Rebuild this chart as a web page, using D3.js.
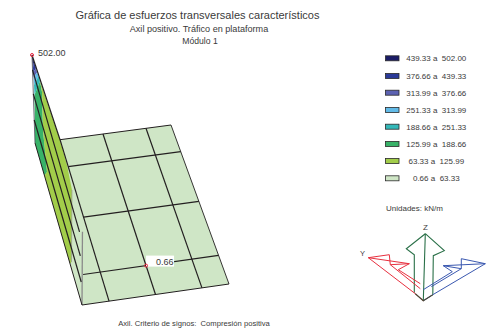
<!DOCTYPE html>
<html><head><meta charset="utf-8">
<script src="https://cdn.jsdelivr.net/npm/d3@7/dist/d3.min.js"></script>
<style>html,body{margin:0;padding:0;background:#fff}svg{display:block}text{font-family:"Liberation Sans",Arial,sans-serif;fill:#3a3a3a;white-space:pre}</style>
</head><body><svg id="c" width="488" height="334"></svg>
<script>
// Legend data
const lowerBounds = [439.33,376.66,313.99,251.33,188.66,125.99,63.33,0.66];
const upperBounds = [502.00,439.33,376.66,313.99,251.33,188.66,125.99,63.33];
const bandColors = ["#1b1c66","#2b3a98","#5c62b2","#62bbe8","#33b8b8","#38b268","#a2cd4a","#cfe6c6"];
const legendY = [58.3,76,92.7,110,126.7,144,161,178.3];
// Plate mesh (fractional stations across u and along v)
const uStations = [0,0.184,0.5,0.816,1];
const vStations = [0,0.167,0.48,0.82,1];
const crossStartU = [0.184,0.184,0.184,0.066,0];
const maxValue = 502, minValue = 0.66;
// Wall of the diagram on u=0: levels of constant height (kN/m)
const wallLevels = [131,280,417];
// Isoband outlines on the wall, as [v, height]
const wedgeBands = [
 [[0,502],[0.042,501],[0.013,440]],
 [[0.013,440],[0.042,501],[0.086,507],[0.016,415]],
 [[0.016,415],[0.086,507],[0.107,503],[0.02,389]],
 [[0.02,389],[0.107,503],[0.139,511],[0.024,353]],
 [[0.024,353],[0.139,511],[0.172,512],[0.027,299]],
 [[0.027,299],[0.172,512],[0.211,486],[0.204,262],[0.265,80],[0.2,0],[0,0]],
 [[0.172,512],[0.605,576],[0.753,571],[0.853,520],[0.782,44],[0.745,0],[0.2,0],[0.265,80],[0.204,262],[0.211,486]]
];
const wedgeEdge = [[0.853,520],[0.782,44]];
const triad = {
 z:[[[2,-67],[-17,-52],[-9,-46],[-9,-8]],[[2,-67],[21,-50],[10,-45],[9.5,-6]],[[2,-67],[0,0]]],
 y:[[[-55,-43],[-34,-46],[-33,-36],[-14,-37],[-25,-31],[-3,-17]],[[-33,-36],[-3,-12]],[[-55,-43],[-14,-37]],[[-55,-43],[-8,-7],[0,0]]],
 x:[[[62,-37],[38,-42],[38,-32],[20,-35],[29,-29],[0,-11]],[[38,-32],[8,-14]],[[62,-37],[20,-35]],[[62,-37],[9.5,-6],[0,0]]]
};

const svg = d3.select("#c");
// projection: bilinear along the plate corners, plus a height vector
const sx0 = d3.scaleLinear().domain([0,1]).range([35,171]), sy0 = d3.scaleLinear().domain([0,1]).range([143,125]);
const sx1 = d3.scaleLinear().domain([0,1]).range([82,229]), sy1 = d3.scaleLinear().domain([0,1]).range([305,284]);
const hx = d3.scaleLinear().domain([0,maxValue]).range([0,-3]), hy = d3.scaleLinear().domain([0,maxValue]).range([0,-88]);
const proj = (u,v,h=0)=>[ sx0(u)+(sx1(u)-sx0(u))*v+hx(h), sy0(u)+(sy1(u)-sy0(u))*v+hy(h) ];
const line = d3.line();
const closed = d3.line().curve(d3.curveLinearClosed);
const pale = bandColors[7], ink="#231f20";

// plate
svg.append("path").attr("d",closed([proj(0,0),proj(1,0),proj(1,1),proj(0,1)])).attr("fill",pale);
// wedge fills
svg.selectAll("path.band").data(wedgeBands).join("path").attr("class","band")
  .attr("d",d=>closed(d.map(p=>proj(0,p[0],p[1])))).attr("fill",(d,i)=>bandColors[i]);
const seg=(pts,c,w)=>svg.append("path").attr("d",line(pts)).attr("fill","none").attr("stroke",c).attr("stroke-width",w);
seg(wedgeEdge.map(p=>proj(0,p[0],p[1])),"#9aa08f",0.8);
seg([proj(0,1),proj(0.02,1,416)],"#8a8a8a",1.3);
// plate lines
vStations.forEach((v,i)=>seg([proj(crossStartU[i],v),proj(1,v)],ink,i==0||i==4?1:1.2));
uStations.slice(1).forEach(u=>seg([proj(u,0),proj(u,1)],ink,u==1?0.9:1.2));
// wedge lines
seg([proj(0,0),proj(0,1)],ink,1);
seg([proj(0,0),proj(0,0,maxValue)],"#454a55",0.8);
seg([proj(0,0,maxValue),proj(uStations[1],0)],ink,1.2);
wallLevels.forEach(h=>seg([proj(0,0,h),proj(0,1,h)],ink,1.2));

// value labels
const pMax=proj(0,0,maxValue), pMin=proj(0.5,0.82);
const labelSize=9;
svg.append("rect").attr("x",pMin[0]).attr("y",pMin[1]-10).attr("width",28).attr("height",11).attr("fill","#fff");
[pMax,pMin].forEach(p=>svg.append("circle").attr("cx",p[0]).attr("cy",p[1]).attr("r",1.5).attr("fill","none").attr("stroke","#e8203a").attr("stroke-width",1));
const txt=(s,x,y,size,anchor="start")=>svg.append("text").attr("x",x).attr("y",y).attr("font-size",size).attr("text-anchor",anchor).text(s);
txt(maxValue.toFixed(2),pMax[0]+6,pMax[1]+1,labelSize);
txt(minValue.toFixed(2),pMin[0]+10,pMin[1]-1,labelSize);

// titles
txt("Gráfica de esfuerzos transversales característicos",197.5,19,11,"middle");
txt("Axil positivo. Tráfico en plataforma",199,32,9.1,"middle");
txt("Módulo 1",200,44,8.6,"middle");
txt("Axil. Criterio de signos:  Compresión positiva",194,326,7.65,"middle");

// legend
lowerBounds.forEach((lo,i)=>{
  svg.append("rect").attr("x",385.5).attr("y",legendY[i]-2.5).attr("width",13.5).attr("height",5)
    .attr("fill",bandColors[i]).attr("stroke","#2a2a2a").attr("stroke-width",0.8);
  txt(lo.toFixed(2)+" a  "+upperBounds[i].toFixed(2),436.3,legendY[i]+3,8,"middle");
});
txt("Unidades: kN/m",386,211,8);

// axis triad
const ox=d3.scaleLinear().domain([0,1]).range([423.3,424.3]), oy=d3.scaleLinear().domain([0,1]).range([300.7,301.7]);
const tp=p=>[ox(p[0]),oy(p[1])];
[["z","#2a7048"],["y","#e8303f"],["x","#3a58b0"]].forEach(([k,c])=>{
  triad[k].forEach(pl=>seg(pl.map(tp),c,k=="z"?1.1:1));
});
seg([tp([-8,-7]),tp([0,0]),tp([9.5,-6])],"#4a4a38",1.2);
txt("Z",425.5,230,8,"middle");
txt("Y",362.5,256,7.5,"middle");
</script></body></html>
